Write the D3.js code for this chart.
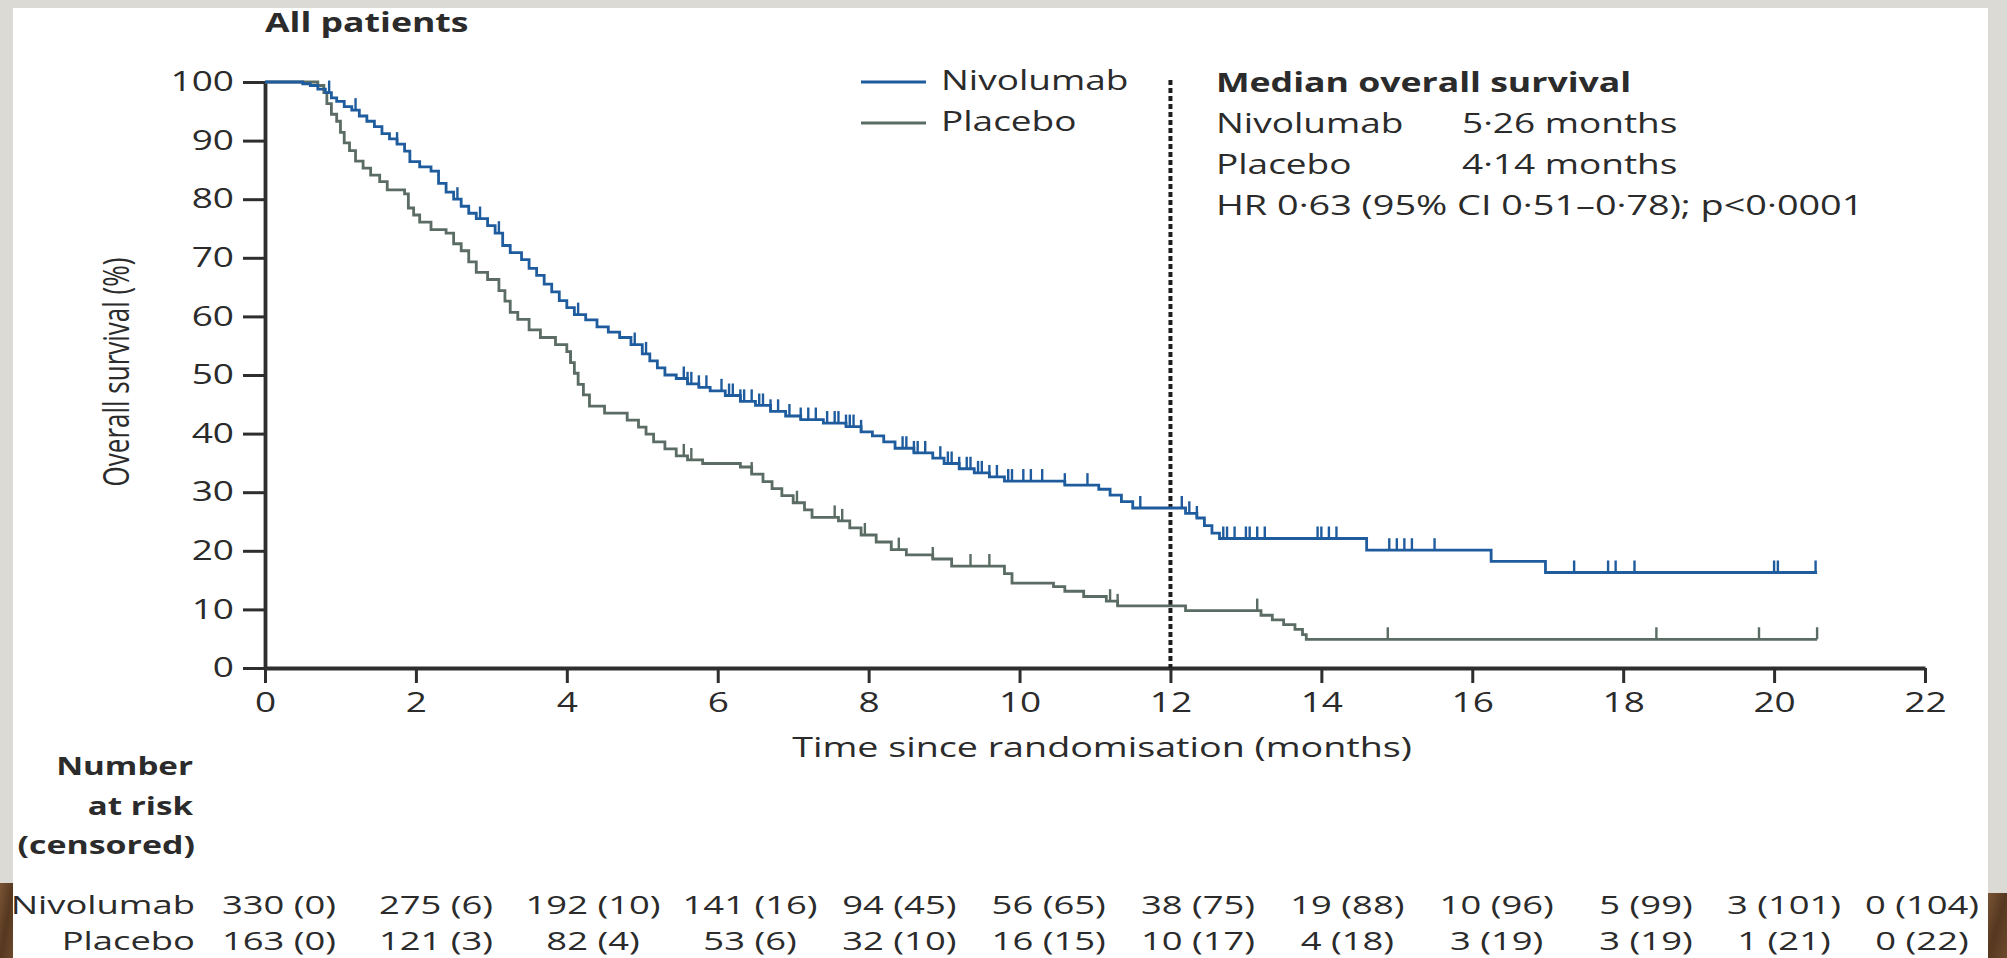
<!DOCTYPE html>
<html><head><meta charset="utf-8">
<script src="https://cdn.jsdelivr.net/npm/d3@7"></script>
<style>
html,body{margin:0;padding:0;background:#dcdad4;overflow:hidden;}
svg{display:block;}
text{font-family:"Open Sans","Noto Sans",sans-serif;}
</style></head><body>
<svg id="chart" width="2007" height="958"></svg>
<script>
// ---------------- DATA ----------------
const xTicks = [0,2,4,6,8,10,12,14,16,18,20,22];
const yTicks = [0,10,20,30,40,50,60,70,80,90,100];
const followUpEnd = 20.57;
const landmarkMonth = 12;

// Kaplan-Meier step points [months, survival %]
const nivolumabSteps = [[0,100],[0.5,99.7],[0.6,99.4],[0.7,98.8],[0.8,98.2],[0.88,97.3],[0.95,96.7],[1.05,95.8],[1.15,95.2],[1.25,94.2],[1.35,93.3],[1.45,92.4],[1.55,91.2],[1.65,90.3],[1.75,89.4],[1.85,88.2],[1.92,86.4],[2.05,85.5],[2.2,84.8],[2.3,82.7],[2.4,81.2],[2.5,80.0],[2.6,78.8],[2.7,77.6],[2.8,76.7],[2.95,75.5],[3.05,74.2],[3.15,72.1],[3.25,70.9],[3.4,69.7],[3.5,68.2],[3.6,67.0],[3.7,65.5],[3.8,64.2],[3.9,62.7],[4.0,61.5],[4.1,60.3],[4.25,59.4],[4.4,58.2],[4.55,57.3],[4.7,56.4],[4.85,55.2],[5.0,53.6],[5.1,52.4],[5.2,51.2],[5.3,50.0],[5.45,49.4],[5.6,48.5],[5.75,47.9],[5.9,47.3],[6.1,46.5],[6.3,45.5],[6.5,44.8],[6.7,43.8],[6.9,43.0],[7.1,42.4],[7.4,41.8],[7.7,41.2],[7.9,40.3],[8.05,39.6],[8.2,38.6],[8.35,37.5],[8.6,36.7],[8.85,35.8],[9.0,34.9],[9.2,34.0],[9.4,33.3],[9.6,32.6],[9.8,31.9],[10.6,31.2],[11.05,30.5],[11.2,29.5],[11.35,28.4],[11.5,27.3],[12.2,26.4],[12.35,25.6],[12.45,24.3],[12.55,23.0],[12.65,22.1],[14.6,20.1],[16.25,18.2],[16.97,16.3]];

const placeboSteps = [[0,100],[0.6,100],[0.7,99.4],[0.78,98.2],[0.82,96.3],[0.88,94.5],[0.95,93.3],[1.0,91.4],[1.05,89.6],[1.12,88.3],[1.2,86.5],[1.3,85.3],[1.4,84.1],[1.52,83.0],[1.62,81.6],[1.85,80.9],[1.9,78.5],[1.97,77.3],[2.05,76.1],[2.2,74.8],[2.4,74.2],[2.5,72.4],[2.6,71.2],[2.7,69.3],[2.8,67.5],[2.95,66.3],[3.1,64.4],[3.18,62.6],[3.25,60.7],[3.35,59.5],[3.5,57.7],[3.65,56.4],[3.85,55.2],[4.0,54.0],[4.05,52.1],[4.1,50.3],[4.15,48.4],[4.22,46.6],[4.3,44.7],[4.5,43.5],[4.8,42.3],[4.95,41.1],[5.05,39.9],[5.15,38.6],[5.3,37.4],[5.45,36.2],[5.6,35.5],[5.8,34.9],[6.3,34.3],[6.45,33.1],[6.6,31.8],[6.72,30.6],[6.85,29.4],[7.0,28.2],[7.15,27.0],[7.25,25.7],[7.6,25.1],[7.75,23.9],[7.9,22.7],[8.1,21.5],[8.3,20.2],[8.5,19.3],[8.85,18.6],[9.1,17.4],[9.8,16.1],[9.9,14.5],[10.45,13.9],[10.6,13.1],[10.85,12.2],[11.15,11.4],[11.3,10.6],[12.2,9.8],[13.2,9.0],[13.35,8.2],[13.5,7.4],[13.65,6.6],[13.75,5.7],[13.8,4.9]];

// censoring times (months)
const nivolumabCensored = [0.85,1.2,1.75,2.55,2.85,3.1,4.15,4.9,5.05,5.55,5.6,5.65,5.75,5.85,6.05,6.15,6.2,6.3,6.35,6.45,6.55,6.6,6.7,6.8,6.95,7.1,7.2,7.3,7.45,7.55,7.6,7.7,7.75,7.8,7.9,8.45,8.5,8.6,8.65,8.75,8.95,9.05,9.1,9.2,9.3,9.35,9.45,9.5,9.6,9.7,9.85,9.9,10.05,10.15,10.3,10.6,10.9,11.6,12.15,12.25,12.35,12.7,12.75,12.85,13.0,13.05,13.15,13.25,13.95,14.0,14.1,14.2,14.9,15.0,15.1,15.2,15.5,17.35,17.8,17.9,18.15,20.0,20.05,20.55];
const placeboCensored = [4.05,5.55,5.65,6.45,7.05,7.55,7.65,7.95,8.4,8.85,9.35,9.6,11.2,11.3,13.15,14.88,18.44,19.8,20.57];

const seriesNames = ["Nivolumab","Placebo"];
const seriesColors = ["#1f5c9e","#5a6c63"];

const atRiskNivolumab = ["330 (0)","275 (6)","192 (10)","141 (16)","94 (45)","56 (65)","38 (75)","19 (88)","10 (96)","5 (99)","3 (101)","0 (104)"];
const atRiskPlacebo   = ["163 (0)","121 (3)","82 (4)","53 (6)","32 (10)","16 (15)","10 (17)","4 (18)","3 (19)","3 (19)","1 (21)","0 (22)"];

const medianTitle = "Median overall survival";
const medianRows = [["Nivolumab","5\u00b726 months"],["Placebo","4\u00b714 months"]];
const hrText = "HR 0\u00b763 (95% CI 0\u00b751\u20130\u00b778); p<0\u00b70001";

// ---------------- DRAWING ----------------
const W = 2007, H = 958, SX = 1.37, INK = "#2b2b2b";
const svg = d3.select("#chart");

svg.append("rect").attr("width",W).attr("height",H).attr("fill","#dcdad4");
const defs = svg.append("defs");
const wood = defs.append("linearGradient").attr("id","wood").attr("x1",0).attr("y1",0).attr("x2",1).attr("y2",1);
wood.append("stop").attr("offset","0%").attr("stop-color","#7a5535");
wood.append("stop").attr("offset","50%").attr("stop-color","#563820");
wood.append("stop").attr("offset","100%").attr("stop-color","#6c4a2d");
svg.append("rect").attr("x",0).attr("y",883).attr("width",14).attr("height",75).attr("fill","url(#wood)");
svg.append("rect").attr("x",1987).attr("y",893).attr("width",20).attr("height",65).attr("fill","url(#wood)");
svg.append("rect").attr("x",13).attr("y",8).attr("width",1975).attr("height",950).attr("fill","#ffffff");

const x = d3.scaleLinear().domain([0,22]).range([265,1925]);
const y = d3.scaleLinear().domain([0,100]).range([668,82]);

function label(str, xx, yy, o = {}) {
  return svg.append("text")
    .attr("transform", `translate(${xx},${yy}) scale(${o.sx || SX},1)` + (o.rotate ? ` rotate(${o.rotate})` : ""))
    .attr("text-anchor", o.anchor || "start")
    .attr("font-size", o.size || 27)
    .attr("font-weight", o.weight || 400)
    .attr("fill", o.fill || INK)
    .text(str);
}
function stretchAxisText(g, size) {
  g.selectAll(".tick text").each(function () {
    const s = d3.select(this);
    const tx = +s.attr("x") || 0, ty = +s.attr("y") || 0;
    s.attr("x", 0).attr("y", 0)
     .attr("transform", `translate(${tx},${ty}) scale(${SX},1)`)
     .attr("font-size", size).attr("fill", INK)
     .attr("font-family", '"Open Sans","Noto Sans",sans-serif');
  });
}

// axes
const gy = svg.append("g").attr("transform", `translate(${x(0)},0)`)
  .call(d3.axisLeft(y).tickValues(yTicks).tickSize(22).tickSizeOuter(0).tickPadding(9).tickFormat(d3.format("d")));
const gx = svg.append("g").attr("transform", `translate(0,${y(0)})`)
  .call(d3.axisBottom(x).tickValues(xTicks).tickSize(15).tickSizeOuter(0).tickPadding(10).tickFormat(d3.format("d")));
[gx, gy].forEach(g => {
  g.select(".domain").attr("stroke", "#2e2e2e").attr("stroke-width", 3.8);
  g.selectAll(".tick line").attr("stroke", "#2e2e2e").attr("stroke-width", 3);
  stretchAxisText(g, 27);
});

// landmark dotted line
svg.append("line")
  .attr("x1", x(landmarkMonth)).attr("x2", x(landmarkMonth))
  .attr("y1", y(100) - 2).attr("y2", y(0))
  .attr("stroke", "#1e1e1e").attr("stroke-width", 4).attr("stroke-dasharray", "5,3");

// curves
const line = d3.line().x(d => x(d[0])).y(d => y(d[1])).curve(d3.curveStepAfter);
function withEnd(steps) { return steps.concat([[followUpEnd, steps[steps.length - 1][1]]]); }
function survivalAt(steps, t) {
  let s = steps[0][1];
  for (const p of steps) { if (p[0] <= t) s = p[1]; else break; }
  return s;
}
const allSteps = [nivolumabSteps, placeboSteps];
const allCens = [nivolumabCensored, placeboCensored];
[1, 0].forEach(i => {
  const steps = allSteps[i];
  svg.append("path").datum(withEnd(steps))
    .attr("d", line).attr("fill", "none")
    .attr("stroke", seriesColors[i]).attr("stroke-width", 2.8);
  svg.append("g").selectAll("line").data(allCens[i]).join("line")
    .attr("x1", d => x(d)).attr("x2", d => x(d))
    .attr("y1", d => y(survivalAt(steps, d)))
    .attr("y2", d => y(survivalAt(steps, d)) - 12)
    .attr("stroke", seriesColors[i]).attr("stroke-width", 2.4);
});

// titles
label("All patients", 265, 32, { size: 26, weight: 700 });
label("Time since randomisation (months)", 1102, 757, { size: 27.5, anchor: "middle" });
label("Overall survival (%)", 129, 372, { size: 26, anchor: "middle", rotate: -90 });

// legend
seriesNames.forEach((n, i) => {
  const ly = 82 + i * 41;
  svg.append("line").attr("x1", 861).attr("x2", 926).attr("y1", ly).attr("y2", ly)
    .attr("stroke", seriesColors[i]).attr("stroke-width", 2.8);
  label(n, 941, ly + 8, { size: 27 });
});

// median box
label(medianTitle, 1216, 92, { size: 26, weight: 700 });
medianRows.forEach((r, i) => {
  label(r[0], 1216, 133 + i * 41, { size: 27 });
  label(r[1], 1462, 133 + i * 41, { size: 27 });
});
label(hrText, 1216, 215, { size: 27.6 });

// number at risk
label("Number", 193, 775, { size: 25.5, weight: 700, anchor: "end", sx: 1.3 });
label("at risk", 193, 815, { size: 25.5, weight: 700, anchor: "end", sx: 1.3 });
label("(censored)", 195, 854, { size: 25.5, weight: 700, anchor: "end", sx: 1.33 });
const col = d3.scaleLinear().domain([0, 6, 18, 22]).range([279, 750, 1646, 1922]);
[atRiskNivolumab, atRiskPlacebo].forEach((row, i) => {
  const by = 914 + i * 36;
  label(seriesNames[i], 195, by, { size: 26, anchor: "end", sx: 1.4 });
  row.forEach((v, j) => label(v, col(xTicks[j]), by, { size: 26, anchor: "middle", sx: 1.4 }));
});
</script>
</body></html>
